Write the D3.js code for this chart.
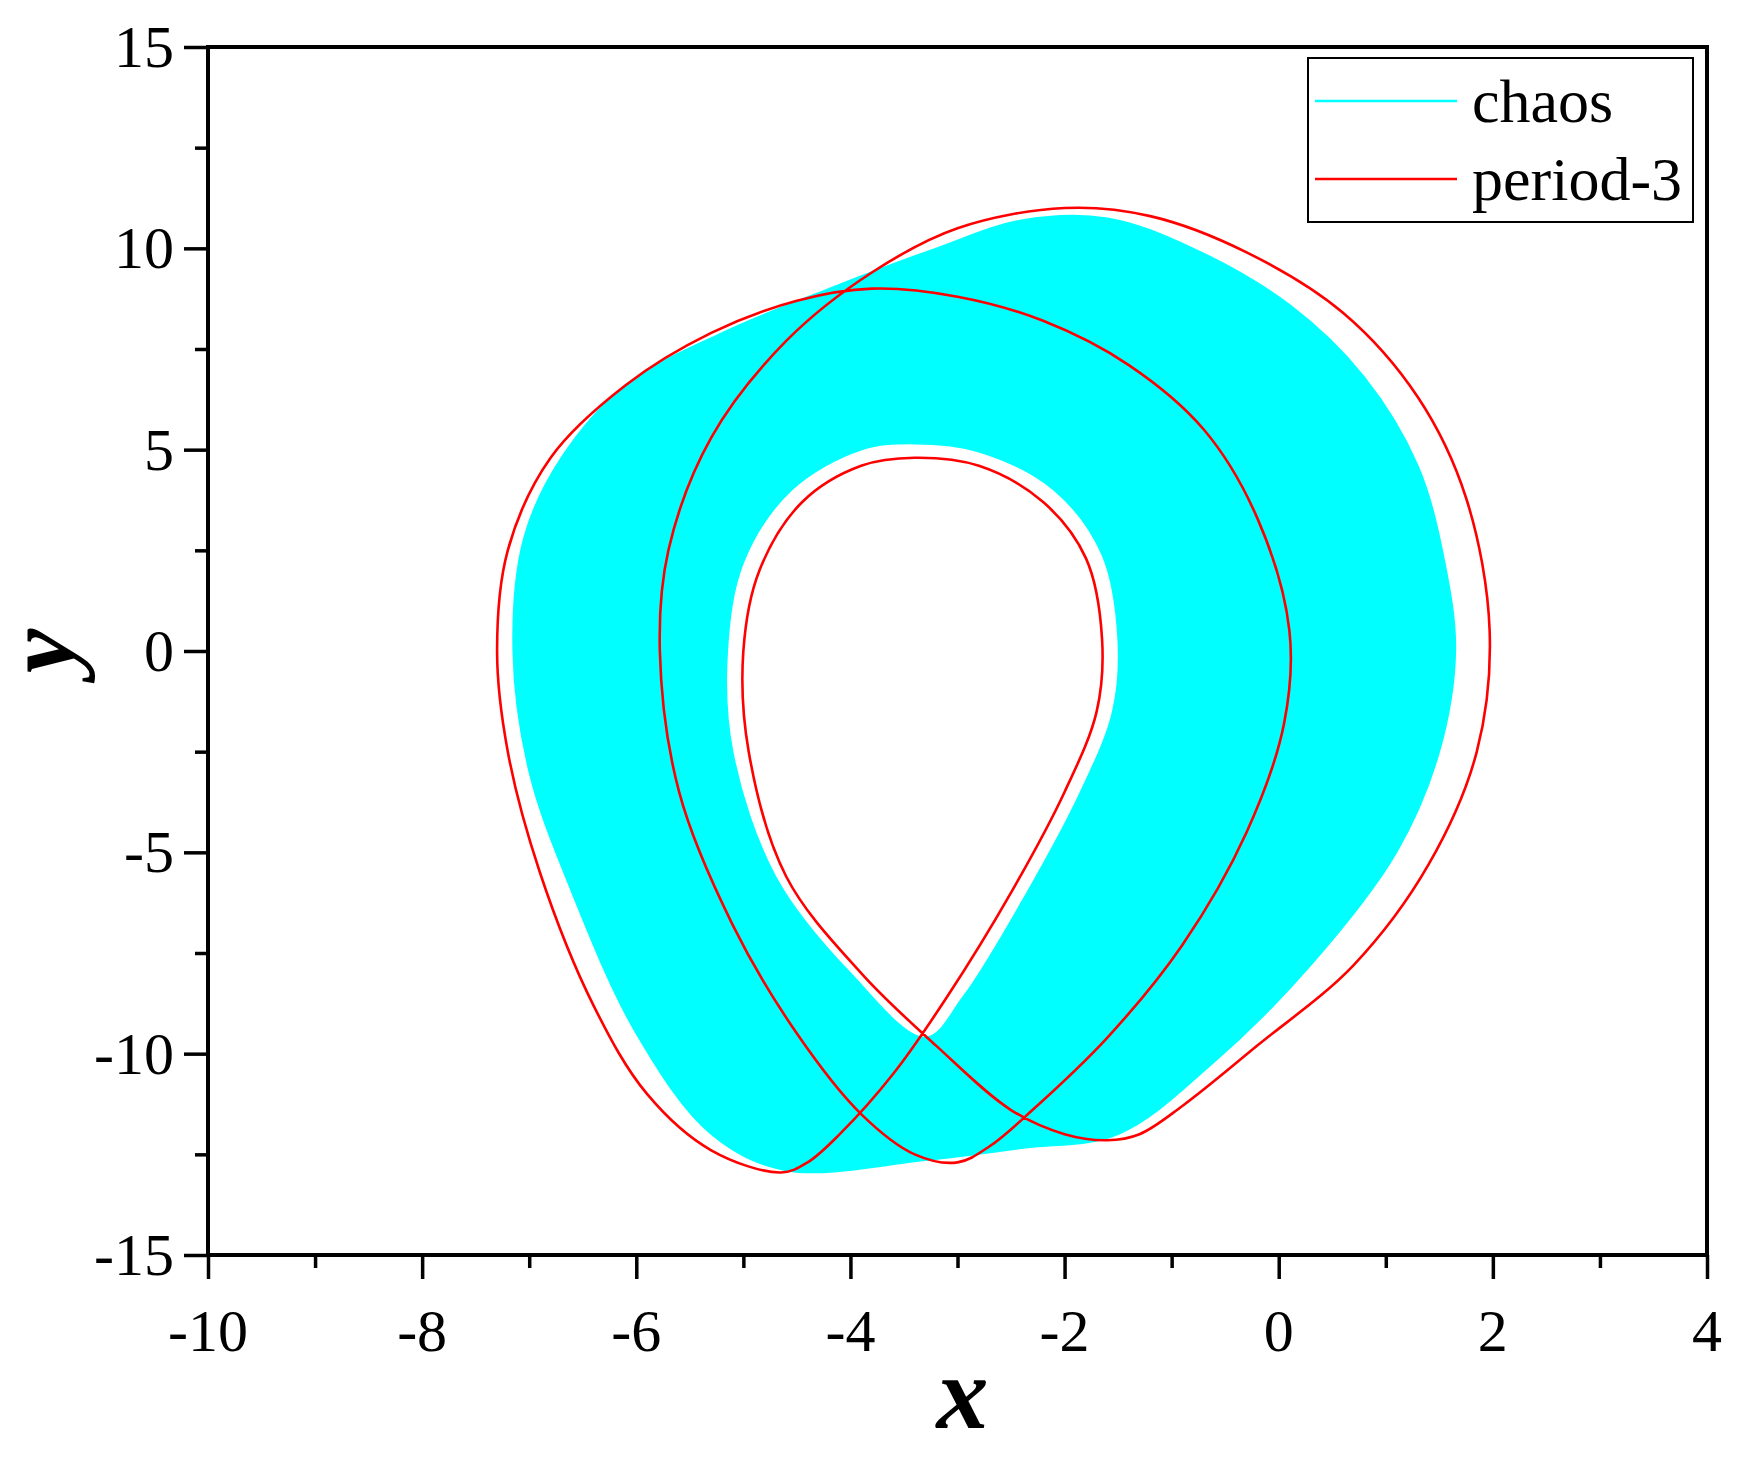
<!DOCTYPE html>
<html>
<head>
<meta charset="utf-8">
<script src="https://cdn.jsdelivr.net/npm/d3@7"></script>
<style>
  body { margin: 0; background: #fff; }
  text { font-family: "Liberation Serif", "Times New Roman", serif; }
</style>
</head>
<body>
<div id="chart"></div>
<script>
// axis ticks
const xTicks = [-10, -8, -6, -4, -2, 0, 2, 4];
const yTicks = [-15, -10, -5, 0, 5, 10, 15];

// outer edge of the chaotic band (x, y)
const chaosOuter = [
  [-7.15, 0], [-7.05, 2.8], [-6.7, 4.8], [-6.1, 6.6], [-5.2, 7.9], [-4.2, 9.0],
  [-3.2, 10.0], [-2.4, 10.7], [-1.6, 10.75], [-0.8, 10.0], [0.1, 8.6], [0.8, 6.8],
  [1.3, 4.6], [1.55, 2.2], [1.65, 0], [1.5, -2.5], [1.1, -5.0], [0.3, -7.8],
  [-0.6, -10.2], [-1.5, -12.0], [-2.4, -12.35], [-3.3, -12.65], [-4.6, -12.9],
  [-5.3, -12.0], [-6.0, -9.5], [-6.6, -6.0], [-7.0, -3.0]
];
// inner hole of the chaotic band
const chaosInner = [
  [-5.15, 0], [-5.0, 2.2], [-4.55, 4.0], [-3.9, 5.0], [-3.4, 5.15], [-2.8, 4.95],
  [-2.1, 4.0], [-1.65, 2.4], [-1.5, 0.3], [-1.55, -1.5], [-1.85, -3.5],
  [-2.35, -6.0], [-2.95, -8.6], [-3.3, -9.6], [-4.0, -8.0], [-4.7, -5.6],
  [-5.1, -2.5]
];
// period-3 orbit
const period3 = [
  [-4.65, -12.95], [-5.3, -12.4], [-5.9, -11.0], [-6.4, -8.8], [-6.9, -5.5],
  [-7.2, -2.5], [-7.3, 0], [-7.2, 2.5], [-6.8, 4.8], [-6.1, 6.6], [-5.3, 7.9],
  [-4.5, 8.7], [-3.8, 9.0], [-3.0, 8.8], [-2.2, 8.2], [-1.4, 7.1], [-0.7, 5.5],
  [-0.2, 3.3], [0.1, 0.5], [0.05, -1.8], [-0.3, -4.5], [-0.9, -7.3], [-1.6, -9.6],
  [-2.3, -11.4], [-2.7, -12.3], [-3.0, -12.7],
  [-3.4, -12.5], [-3.9, -11.5], [-4.5, -9.5], [-5.1, -6.8], [-5.6, -3.5],
  [-5.78, 0], [-5.7, 2.5], [-5.3, 5.3], [-4.6, 7.7], [-3.8, 9.4], [-3.0, 10.5],
  [-2.0, 11.0], [-1.2, 10.8], [-0.3, 9.9], [0.6, 8.4], [1.3, 6.3], [1.75, 3.8],
  [1.97, 0.5], [1.85, -2.5], [1.4, -5.3], [0.7, -7.8], [-0.2, -9.8], [-0.9, -11.3],
  [-1.3, -12.0], [-1.6, -12.15],
  [-2.0, -12.0], [-2.5, -11.4], [-3.2, -9.8], [-3.9, -8.0], [-4.6, -5.6],
  [-4.95, -2.5], [-5.0, 0], [-4.85, 2.0], [-4.45, 3.7], [-3.9, 4.6], [-3.4, 4.8],
  [-2.8, 4.6], [-2.2, 3.7], [-1.8, 2.3], [-1.65, 0.3], [-1.7, -1.5], [-2.0, -3.5],
  [-2.5, -6.0], [-3.1, -8.6], [-3.6, -10.5], [-4.1, -12.0], [-4.4, -12.7]
];

const W = 1737, H = 1459;
const pl = 208, pr = 1707, pt = 47, pb = 1255;

const svg = d3.select("#chart").append("svg")
  .attr("width", W).attr("height", H);

const x = d3.scaleLinear().domain([-10, 4]).range([pl, pr]);
const y = d3.scaleLinear().domain([-15, 15]).range([pb, pt]);

const closed = d3.line().x(d => x(d[0])).y(d => y(d[1]))
  .curve(d3.curveCatmullRomClosed.alpha(0.5));

// chaos band as a filled ring
svg.append("path")
  .attr("d", closed(chaosOuter) + closed(chaosInner))
  .attr("fill", "#00ffff")
  .attr("fill-rule", "evenodd")
  .attr("stroke", "#00ffff")
  .attr("stroke-width", 1.5);

svg.append("path")
  .attr("d", closed(period3))
  .attr("fill", "none")
  .attr("stroke", "#ff0000")
  .attr("stroke-width", 2.6);

// frame
svg.append("rect")
  .attr("x", pl).attr("y", pt)
  .attr("width", pr - pl).attr("height", pb - pt)
  .attr("fill", "none").attr("stroke", "#000").attr("stroke-width", 4);

// axes
const xAxis = svg.append("g")
  .attr("transform", `translate(0,${pb})`)
  .call(d3.axisBottom(x).tickValues(d3.range(-10, 4.01, 1)).tickSize(12).tickFormat(""));
xAxis.selectAll("line").attr("stroke-width", 3.5)
  .attr("y2", d => xTicks.includes(d) ? 24 : 13);

const yAxis = svg.append("g")
  .attr("transform", `translate(${pl},0)`)
  .call(d3.axisLeft(y).tickValues(d3.range(-15, 15.01, 2.5)).tickSize(12).tickFormat(""));
yAxis.selectAll("line").attr("stroke-width", 3.5)
  .attr("x2", d => yTicks.includes(d) ? -24 : -13);
svg.selectAll(".domain").remove();

svg.selectAll(".xlab").data(xTicks).enter().append("text")
  .attr("x", d => x(d)).attr("y", pb + 96)
  .attr("text-anchor", "middle").attr("font-size", 60)
  .text(d => d);

svg.selectAll(".ylab").data(yTicks).enter().append("text")
  .attr("x", pl - 34).attr("y", d => y(d) + 20)
  .attr("text-anchor", "end").attr("font-size", 60)
  .text(d => d);

svg.append("text")
  .attr("x", (pl + pr) / 2 + 5).attr("y", 1428)
  .attr("text-anchor", "middle").attr("font-size", 104)
  .attr("font-weight", "bold").attr("font-style", "italic")
  .text("x");

svg.append("text")
  .attr("transform", `translate(74,${y(0)}) rotate(-90)`)
  .attr("text-anchor", "middle").attr("font-size", 100)
  .attr("font-weight", "bold").attr("font-style", "italic")
  .text("y");

// legend
const legend = svg.append("g");
legend.append("rect")
  .attr("x", 1308).attr("y", 58).attr("width", 385).attr("height", 164)
  .attr("fill", "#fff").attr("stroke", "#000").attr("stroke-width", 2);
const items = [["chaos", "#00ffff"], ["period-3", "#ff0000"]];
items.forEach((it, i) => {
  const ly = 101 + i * 78;
  legend.append("line")
    .attr("x1", 1315).attr("x2", 1457).attr("y1", ly).attr("y2", ly)
    .attr("stroke", it[1]).attr("stroke-width", 2.6);
  legend.append("text")
    .attr("x", 1472).attr("y", ly + 21).attr("font-size", 62)
    .text(it[0]);
});
</script>
</body>
</html>
